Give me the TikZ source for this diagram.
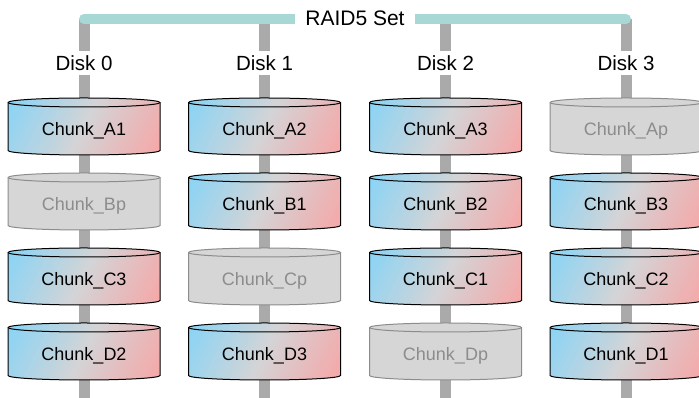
\documentclass[tikz,border=0pt]{standalone}
\usepackage{fontspec}
\setmainfont{Liberation Sans}
\usetikzlibrary{backgrounds}
\definecolor{cblue}{RGB}{134,212,247}
\definecolor{cpink}{RGB}{247,166,166}
\definecolor{cmid}{RGB}{212,212,214}
\definecolor{gfill}{RGB}{214,214,214}
\definecolor{gborder}{RGB}{140,140,140}
\definecolor{gtext}{RGB}{140,140,140}
\definecolor{barg}{RGB}{170,170,170}
\definecolor{tealc}{RGB}{168,216,214}
\tikzset{
  bar/.style={draw=barg, line width=11pt},
  tealline/.style={draw=tealc, line width=10pt, line cap=round},
  disklbl/.style={fill=white, font=\fontsize{20.5}{24}\selectfont, text height=14.7pt, text depth=0pt, inner xsep=3pt, inner ysep=4.5pt},
  setlbl/.style={fill=white, font=\fontsize{21}{24}\selectfont, text height=15pt, text depth=0pt, inner xsep=10pt, inner ysep=3pt},
  chunktxt/.style={font=\fontsize{18}{22}\selectfont, text height=12.9pt, text depth=0pt, inner sep=0pt},
  coledge/.style={draw=black, line width=1pt},
  grayedge/.style={draw=gborder, line width=1pt},
  colt/.style={text=black},
  grayt/.style={text=gtext},
}
% colour fill: diagonal gradient, blue top-left to pink bottom-right
\newcommand\colfill{%
  \foreach \k in {0,...,45}{%
    \pgfmathtruncatemacro\pa{min(100,max(0,200*(\k+0.5)/46))}%
    \pgfmathtruncatemacro\pb{min(100,max(0,200*(\k+0.5)/46-100))}%
    \colorlet{tmpa}{cmid!\pa!cblue}%
    \colorlet{tmpb}{cpink!\pb!tmpa}%
    \fill[tmpb] ({-106+\k*3.956},-27) -- ++(4.6,0) -- ++(30,60) -- ++(-4.6,0) -- cycle;
  }}
\newcommand\grayfill{\fill[gfill] (-80,-30) rectangle (80,35);}
\newcommand\chunkcyl[5]{%
  \begin{scope}[shift={(#2,{268.5-75*#3})}]
    \begin{scope}
      \clip (-76,27) -- (-76,-21)
        arc[start angle=180,end angle=360,x radius=76pt,y radius=4.5pt]
        -- (76,27)
        arc[start angle=0,end angle=180,x radius=76pt,y radius=4.5pt] -- cycle;
      \csname #5fill\endcsname
    \end{scope}
    \draw[#5edge] (-76,27) -- (-76,-21)
      arc[start angle=180,end angle=360,x radius=76pt,y radius=4.5pt]
      -- (76,27)
      arc[start angle=0,end angle=180,x radius=76pt,y radius=4.5pt] -- cycle;
    \draw[#5edge] (-76,27) arc[start angle=180,end angle=360,x radius=76pt,y radius=4.5pt];
    \node[chunktxt,#5t] (#1) at (0,0) {#4};
  \end{scope}}
\begin{document}
\begin{tikzpicture}[x=1pt,y=1pt]
  \useasboundingbox (0,0) rectangle (699,398);
  \clip (0,0) rectangle (699,398);
  % top and bottom coordinates of the disk bars
  \coordinate (top0) at (84,379);    \coordinate (bot0) at (84,0);
  \coordinate (top1) at (264.5,379); \coordinate (bot1) at (264.5,0);
  \coordinate (top2) at (445.5,379); \coordinate (bot2) at (445.5,0);
  \coordinate (top3) at (626,379);   \coordinate (bot3) at (626,0);
  % labels
  \node[setlbl] (set) at (355,380) {RAID5 Set};
  \node[disklbl] (disk0) at (84,335) {Disk 0};
  \node[disklbl] (disk1) at (264.5,335) {Disk 1};
  \node[disklbl] (disk2) at (445.5,335) {Disk 2};
  \node[disklbl] (disk3) at (626,335) {Disk 3};
  % chunks
  \chunkcyl{a0}{84}{0}{Chunk\_A1}{col}
  \chunkcyl{b0}{84}{1}{Chunk\_Bp}{gray}
  \chunkcyl{c0}{84}{2}{Chunk\_C3}{col}
  \chunkcyl{d0}{84}{3}{Chunk\_D2}{col}
  \chunkcyl{a1}{264.5}{0}{Chunk\_A2}{col}
  \chunkcyl{b1}{264.5}{1}{Chunk\_B1}{col}
  \chunkcyl{c1}{264.5}{2}{Chunk\_Cp}{gray}
  \chunkcyl{d1}{264.5}{3}{Chunk\_D3}{col}
  \chunkcyl{a2}{445.5}{0}{Chunk\_A3}{col}
  \chunkcyl{b2}{445.5}{1}{Chunk\_B2}{col}
  \chunkcyl{c2}{445.5}{2}{Chunk\_C1}{col}
  \chunkcyl{d2}{445.5}{3}{Chunk\_Dp}{gray}
  \chunkcyl{a3}{626}{0}{Chunk\_Ap}{gray}
  \chunkcyl{b3}{626}{1}{Chunk\_B3}{col}
  \chunkcyl{c3}{626}{2}{Chunk\_C2}{col}
  \chunkcyl{d3}{626}{3}{Chunk\_D1}{col}
  \begin{scope}[on background layer]
    \foreach \i in {0,1,2,3}{
      \draw[bar] (top\i) -- (disk\i.center) -- (a\i.center) -- (b\i.center) -- (c\i.center) -- (d\i.center) -- (bot\i);
    }
    \draw[tealline] (top0) -- (top3);
  \end{scope}
\end{tikzpicture}
\end{document}
